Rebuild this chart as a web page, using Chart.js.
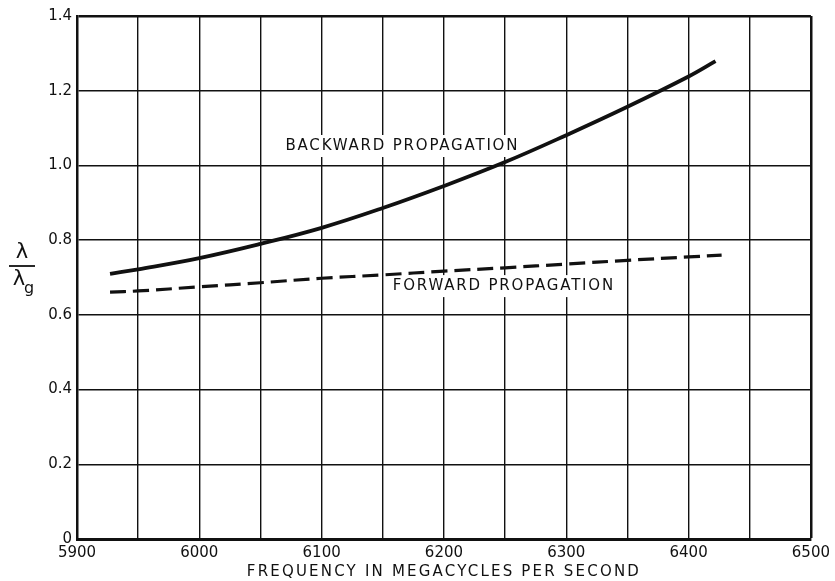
<!DOCTYPE html>
<html>
<head>
<meta charset="utf-8">
<script src="https://cdn.jsdelivr.net/npm/chart.js@4"></script>
<style>
    body { margin: 0; background: #fff; }
    #wrap { width: 835px; height: 581px; }
</style>
</head>
<body>
<div id="wrap"><canvas id="chart"></canvas></div>
<script>
// frequencies in Mc/s and lambda / lambda_g
const backFreq = [5927, 5950, 6000, 6050, 6100, 6150, 6200, 6250, 6300, 6350, 6400, 6422];
const backValues = [0.710, 0.722, 0.752, 0.790, 0.833, 0.886, 0.945, 1.009, 1.081, 1.157, 1.238, 1.279];

const fwdFreq = [5927, 5950, 6000, 6050, 6100, 6150, 6200, 6250, 6300, 6350, 6400, 6427];
const fwdValues = [0.661, 0.664, 0.675, 0.686, 0.698, 0.707, 0.717, 0.726, 0.736, 0.746, 0.755, 0.760];

const xTicks = [5900, 6000, 6100, 6200, 6300, 6400, 6500];
const yTicks = [0, 0.2, 0.4, 0.6, 0.8, 1.0, 1.2, 1.4];

const curveLabels = [
    { text: 'BACKWARD PROPAGATION', x: 6166, y: 1.052 },
    { text: 'FORWARD PROPAGATION', x: 6249, y: 0.677 }
];

const FONT = '"DejaVu Sans", sans-serif';

function toPoints(xs, ys) {
    return xs.map((x, i) => ({ x: x, y: ys[i] }));
}

const textPlugin = {
    id: 'textPlugin',
    beforeDatasetsDraw(chart) {
        const ctx = chart.ctx;
        const xs = chart.scales.x, ys = chart.scales.y;
        ctx.save();
        ctx.font = '15px ' + FONT;
        ctx.letterSpacing = '1.8px';
        ctx.textAlign = 'center';
        ctx.textBaseline = 'middle';
        curveLabels.forEach(l => {
            const px = xs.getPixelForValue(l.x);
            const py = ys.getPixelForValue(l.y);
            const w = ctx.measureText(l.text).width;
            ctx.fillStyle = '#fff';
            ctx.fillRect(px - w / 2 - 6, py - 11, w + 12, 22);
            ctx.fillStyle = '#111';
            ctx.fillText(l.text, px, py);
        });
        ctx.restore();
    },
    afterDraw(chart) {
        const ctx = chart.ctx;
        const area = chart.chartArea;
        ctx.save();
        ctx.fillStyle = '#111';
        ctx.strokeStyle = '#111';
        ctx.textAlign = 'center';
        ctx.textBaseline = 'middle';

        // x axis title
        ctx.font = '15px ' + FONT;
        ctx.letterSpacing = '2.2px';
        ctx.fillText('FREQUENCY IN MEGACYCLES PER SECOND', (area.left + area.right) / 2, 572);

        // y axis title as a fraction
        ctx.letterSpacing = '0px';
        ctx.font = '21px ' + FONT;
        ctx.fillText('λ', 22, 253);
        ctx.lineWidth = 1.8;
        ctx.beginPath();
        ctx.moveTo(9, 266);
        ctx.lineTo(35, 266);
        ctx.stroke();
        ctx.fillText('λ', 19, 280);
        ctx.font = '16px ' + FONT;
        ctx.fillText('g', 29, 289);
        ctx.restore();
    }
};

const gridWidth = edgeValues => c => {
    if (c.tick && edgeValues.includes(c.tick.value)) return 2.5;
    return 1.4;
};

new Chart(document.getElementById('chart'), {
    type: 'line',
    data: {
        datasets: [{
            label: 'Backward propagation',
            data: toPoints(backFreq, backValues),
            borderColor: '#111',
            borderWidth: 3.8,
            tension: 0.4,
            pointRadius: 0,
            fill: false
        }, {
            label: 'Forward propagation',
            data: toPoints(fwdFreq, fwdValues),
            borderColor: '#111',
            borderWidth: 3.2,
            borderDash: [16, 7],
            tension: 0.4,
            pointRadius: 0,
            fill: false
        }]
    },
    options: {
        responsive: true,
        maintainAspectRatio: false,
        animation: false,
        layout: { padding: { top: 16, right: 23, left: 0, bottom: 0 } },
        plugins: {
            legend: { display: false },
            tooltip: { enabled: false }
        },
        scales: {
            x: {
                type: 'linear',
                min: 5900,
                max: 6500,
                afterBuildTicks: s => {
                    const t = [];
                    for (let v = 5900; v <= 6500; v += 50) t.push({ value: v });
                    s.ticks = t;
                },
                afterFit: s => { s.height = 42; },
                ticks: {
                    color: '#111',
                    font: { family: FONT, size: 15 },
                    padding: 5,
                    maxRotation: 0,
                    autoSkip: false,
                    callback: v => xTicks.includes(v) ? String(v) : ''
                },
                grid: {
                    color: '#111',
                    lineWidth: gridWidth([6500]),
                    drawTicks: false
                },
                border: { color: '#111', width: 3 }
            },
            y: {
                min: 0,
                max: 1.4,
                afterBuildTicks: s => {
                    s.ticks = yTicks.map(v => ({ value: v }));
                },
                afterFit: s => { s.width = 77; },
                ticks: {
                    color: '#111',
                    font: { family: FONT, size: 15 },
                    padding: 5,
                    callback: v => v === 0 ? '0' : v.toFixed(1)
                },
                grid: {
                    color: '#111',
                    lineWidth: gridWidth([1.4]),
                    drawTicks: false
                },
                border: { color: '#111', width: 2.5 }
            }
        }
    },
    plugins: [textPlugin]
});
</script>
</body>
</html>
